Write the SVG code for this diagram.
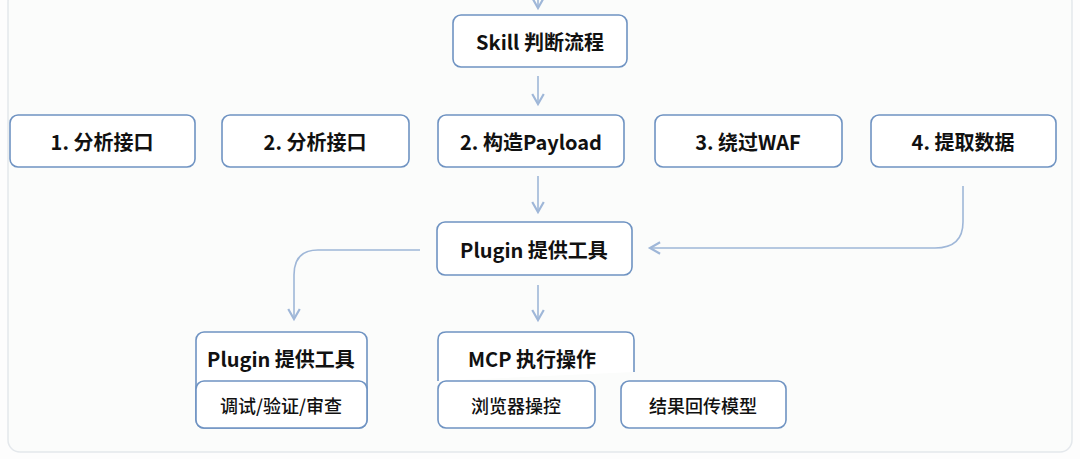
<svg xmlns="http://www.w3.org/2000/svg" width="1080" height="459" viewBox="0 0 1080 459">
<defs>
<style>
.n{fill:#fff;stroke:#6f93c2;stroke-width:1.6}
.t{font-family:"Noto Sans CJK SC","Noto Sans",sans-serif;font-weight:700;font-size:20px;fill:#111;text-anchor:middle;dominant-baseline:central}
.s{font-family:"Noto Sans CJK SC","Noto Sans",sans-serif;font-weight:500;font-size:18px;fill:#111;text-anchor:middle;dominant-baseline:central}
.c{fill:none;stroke:#9fb7d8;stroke-width:1.6}
</style>
<marker id="a" viewBox="0 0 10 10" refX="8" refY="5" markerWidth="9" markerHeight="9" orient="auto"><path d="M1 1L8 5L1 9" fill="none" stroke="#9fb7d8" stroke-width="1.5"/></marker>
</defs>
<rect x="0" y="0" width="1080" height="459" fill="#fdfdfd"/>
<rect x="8" y="-10" width="1064" height="462" rx="12" fill="#fbfcfb" stroke="#e4e8ec" stroke-width="1.5"/>
<g id="connectors">
<path class="c" d="M538 -2V8" marker-end="url(#a)"/>
<path class="c" d="M538 76V104" marker-end="url(#a)"/>
<path class="c" d="M538 176V212" marker-end="url(#a)"/>
<path class="c" d="M963 186V222Q963 248 935 248H650" marker-end="url(#a)"/>
<path class="c" d="M420 250H318Q294 250 294 275V319" marker-end="url(#a)"/>
<path class="c" d="M538 285V320" marker-end="url(#a)"/>
</g>
<g id="skill"><rect class="n" x="453" y="15" width="174" height="52" rx="8"/><text class="t" x="540" y="41">Skill 判断流程</text></g>
<g id="s1"><rect class="n" x="10" y="115" width="185" height="52" rx="8"/><text class="t" x="102" y="141">1. 分析接口</text></g>
<g id="s2"><rect class="n" x="222" y="115" width="187" height="52" rx="8"/><text class="t" x="315" y="141">2. 分析接口</text></g>
<g id="s3"><rect class="n" x="438" y="115" width="186" height="52" rx="8"/><text class="t" x="531" y="141">2. 构造Payload</text></g>
<g id="s4"><rect class="n" x="655" y="115" width="187" height="52" rx="8"/><text class="t" x="748" y="141">3. 绕过WAF</text></g>
<g id="s5"><rect class="n" x="871" y="115" width="185" height="52" rx="8"/><text class="t" x="963" y="141">4. 提取数据</text></g>
<g id="plugin"><rect class="n" x="437" y="222" width="195" height="53" rx="8"/><text class="t" x="534" y="249">Plugin 提供工具</text></g>
<g id="plugin2"><rect class="n" x="196" y="332" width="171" height="96" rx="8"/><text class="t" x="281" y="358">Plugin 提供工具</text>
<rect class="n" x="196" y="381" width="171" height="47" rx="8"/><text class="s" x="281" y="405">调试/验证/审查</text></g>
<g id="mcp"><path class="n" d="M438 381V340Q438 332 446 332H626Q634 332 634 340V372" fill="none"/><text class="t" x="532" y="358">MCP 执行操作</text></g>
<g id="browser"><rect class="n" x="438" y="381" width="157" height="47" rx="8"/><text class="s" x="516" y="405">浏览器操控</text></g>
<g id="result"><rect class="n" x="621" y="381" width="165" height="47" rx="8"/><text class="s" x="703" y="405">结果回传模型</text></g>
</svg>
